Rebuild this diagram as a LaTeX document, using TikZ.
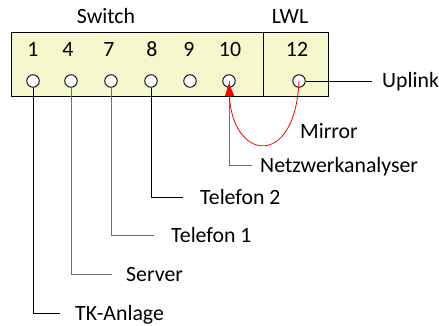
\documentclass[tikz,border=0pt]{standalone}
\usepackage{fontspec}
\setmainfont{Carlito}
\usetikzlibrary{arrows.meta}
\definecolor{boxfill}{HTML}{F5F8CC}
\definecolor{wiregray}{HTML}{6E6E6E}
\begin{document}
\begin{tikzpicture}[x=1pt,y=-1pt,
 port/.style={circle,draw,fill=white,minimum size=12.5pt,inner sep=0pt,line width=0.9pt},
 lbl/.style={font=\fontsize{21.8}{26}\selectfont,inner sep=0pt},
 wire/.style={line width=0.9pt},
 graywire/.style={line width=0.9pt,draw=wiregray},
 mirror/.style={red,line width=0.8pt,-{Triangle[length=13pt,width=9pt]}}]
\useasboundingbox (0,0) rectangle (439,326);
% switch box
\draw[line width=1pt, fill=boxfill] (11,33) rectangle (328,97);
\draw[line width=1pt] (263,33) -- (263,97);
% titles
\node[lbl,anchor=base] (sw) at (106,24) {Switch};
\node[lbl,anchor=base] (lwl) at (290,24) {LWL};
% port numbers
\node[lbl,anchor=base] (n1) at (33,57) {1};
\node[lbl,anchor=base] (n4) at (68,57) {4};
\node[lbl,anchor=base] (n7) at (109,57) {7};
\node[lbl,anchor=base] (n8) at (152,57) {8};
\node[lbl,anchor=base] (n9) at (189,57) {9};
\node[lbl,anchor=base] (n10) at (230,57) {10};
\node[lbl,anchor=base] (n12) at (297,57) {12};
% ports
\node[port] (p1) at (33,81) {};
\node[port] (p4) at (71,81) {};
\node[port] (p7) at (111,81) {};
\node[port] (p8) at (151,81) {};
\node[port] (p9) at (190,81) {};
\node[port] (p10) at (229,81) {};
\node[port] (p12) at (299,81) {};
% labels
\node[lbl,anchor=base west] (tk) at (75,320) {TK-Anlage};
\node[lbl,anchor=base west] (srv) at (126,281) {Server};
\node[lbl,anchor=base west] (t1) at (171,242) {Telefon 1};
\node[lbl,anchor=base west] (t2) at (200,204) {Telefon 2};
\node[lbl,anchor=base west] (nwa) at (260,172) {Netzwerkanalyser};
\node[lbl,anchor=base west] (up) at (382,88) {Uplink};
\node[lbl,anchor=base west] (mir) at (300,139) {Mirror};
% wires
\draw[wire] (p1.south) |- ([xshift=-15pt,yshift=7pt]tk.base west);
\draw[graywire] (p4.south) |- ([xshift=-14pt,yshift=7pt]srv.base west);
\draw[graywire] (p7.south) |- ([xshift=-17pt,yshift=7pt]t1.base west);
\draw[wire] (p8.south) |- ([xshift=-17pt,yshift=7pt]t2.base west);
\draw[graywire] (p10.center) |- ([xshift=-8pt,yshift=7pt]nwa.base west);
\draw[wire] (p12.east) -- ([xshift=-10pt,yshift=7pt]up.base west);
% mirror
\draw[mirror] (p12.center) .. controls (295,170) and (232,160) .. ([yshift=-2pt]p10.center);
\end{tikzpicture}
\end{document}
